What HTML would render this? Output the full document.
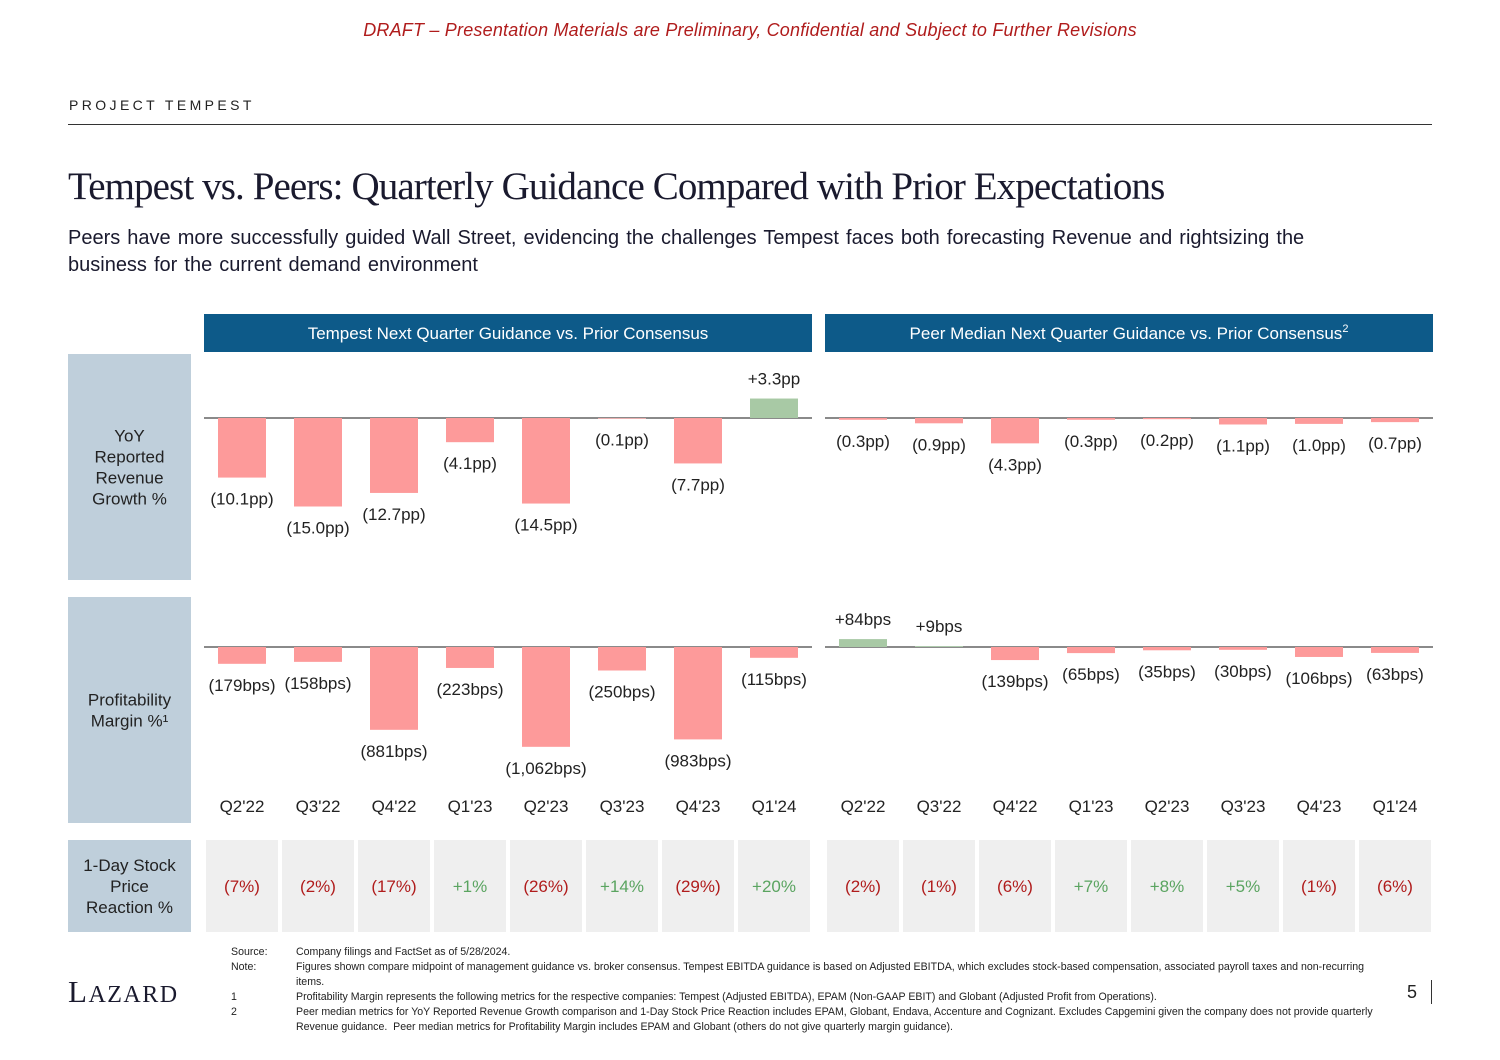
<!DOCTYPE html>
<html><head><meta charset="utf-8"><style>
body{margin:0;width:1500px;height:1060px;background:#fff;position:relative;overflow:hidden;font-family:"Liberation Sans",sans-serif;}
.abs{position:absolute;}
</style></head><body>
<div class="abs" style="left:0;width:1500px;top:20px;text-align:center;color:#b01c1c;font-style:italic;font-size:18px;letter-spacing:0.2px;">DRAFT – Presentation Materials are Preliminary, Confidential and Subject to Further Revisions</div>
<div class="abs" style="left:69px;top:97px;font-size:14px;letter-spacing:3.4px;color:#222;">PROJECT TEMPEST</div>
<div class="abs" style="left:68px;top:124px;width:1364px;height:1px;background:#333;"></div>
<div class="abs" style="left:68px;top:164px;font-family:'Liberation Serif',serif;font-size:39px;color:#1a1a2e;letter-spacing:-0.9px;">Tempest vs. Peers: Quarterly Guidance Compared with Prior Expectations</div>
<div class="abs" style="left:68px;top:225px;width:1320px;font-size:20px;line-height:27px;color:#1a1a2e;word-spacing:1.5px;">Peers have more successfully guided Wall Street, evidencing the challenges Tempest faces both forecasting Revenue and rightsizing the business for the current demand environment</div>

<svg class="abs" style="left:0;top:0" width="1500" height="1060" id="chart" font-family="Liberation Sans, sans-serif"></svg>

<div class="abs" style="left:68px;top:974px;font-family:'Liberation Serif',serif;font-size:31px;letter-spacing:1.5px;color:#1a1a2e;">L<span style="font-size:24px">AZARD</span></div>
<div class="abs" style="left:231px;top:945px;width:1150px;font-size:10.6px;line-height:15px;color:#222;">
<div style="display:flex"><span style="width:65px;flex:none">Source:</span><span>Company filings and FactSet as of 5/28/2024.</span></div>
<div style="display:flex"><span style="width:65px;flex:none">Note:</span><span>Figures shown compare midpoint of management guidance vs. broker consensus. Tempest EBITDA guidance is based on Adjusted EBITDA, which excludes stock-based compensation, associated payroll taxes and non-recurring items.</span></div>
<div style="display:flex"><span style="width:65px;flex:none">1</span><span>Profitability Margin represents the following metrics for the respective companies: Tempest (Adjusted EBITDA), EPAM (Non-GAAP EBIT) and Globant (Adjusted Profit from Operations).</span></div>
<div style="display:flex"><span style="width:65px;flex:none">2</span><span>Peer median metrics for YoY Reported Revenue Growth comparison and 1-Day Stock Price Reaction includes EPAM, Globant, Endava, Accenture and Cognizant. Excludes Capgemini given the company does not provide quarterly Revenue guidance.&nbsp; Peer median metrics for Profitability Margin includes EPAM and Globant (others do not give quarterly margin guidance).</span></div>
</div>
<div class="abs" style="left:1407px;top:982px;font-size:18px;color:#222;">5</div>
<div class="abs" style="left:1431px;top:980px;width:1px;height:24px;background:#333;"></div>

<script>
const quarters=["Q2'22","Q3'22","Q4'22","Q1'23","Q2'23","Q3'23","Q4'23","Q1'24"];
const tempestRevenue=[-10.1,-15.0,-12.7,-4.1,-14.5,-0.1,-7.7,3.3];
const peerRevenue=[-0.3,-0.9,-4.3,-0.3,-0.2,-1.1,-1.0,-0.7];
const tempestMargin=[-179,-158,-881,-223,-1062,-250,-983,-115];
const peerMargin=[84,9,-139,-65,-35,-30,-106,-63];
const tempestStock=[-7,-2,-17,1,-26,14,-29,20];
const peerStock=[-2,-1,-6,7,8,5,-1,-6];

const NS='http://www.w3.org/2000/svg';
const svg=document.getElementById('chart');
function mk(tag,attrs,parent){const e=document.createElementNS(NS,tag);for(const k in attrs)e.setAttribute(k,attrs[k]);(parent||svg).appendChild(e);return e;}
const panels=[{x0:204,title:'Tempest Next Quarter Guidance vs. Prior Consensus',rev:tempestRevenue,mar:tempestMargin,stk:tempestStock,key:'tempest'},
{x0:825,title:'Peer Median Next Quarter Guidance vs. Prior Consensus',rev:peerRevenue,mar:peerMargin,stk:peerStock,key:'peer'}];
const PW=608,COL=PW/8,BW=48;
const revBase=418,revScale=5.9;
const marBase=647,marScale=0.094;
function xc(x0,i){return x0+COL*(i+0.5);}
function yRev(v){return revBase-v*revScale;}
function yMar(v){return marBase-v*marScale;}
function fmtPP(v){return v<0?'('+Math.abs(v).toFixed(1)+'pp)':'+'+v.toFixed(1)+'pp';}
function fmtBps(v){const s=Math.abs(v).toLocaleString('en-US');return v<0?'('+s+'bps)':'+'+s+'bps';}
function fmtPct(v){return v<0?'('+Math.abs(v)+'%)':'+'+v+'%';}

const rows=[{y:354,h:226,lines:['YoY','Reported','Revenue','Growth %'],n:'revenue-row-label'},
{y:597,h:226,lines:['Profitability','Margin %¹'],n:'margin-row-label'},
{y:840,h:92,lines:['1-Day Stock','Price','Reaction %'],n:'stock-row-label'}];
rows.forEach(r=>{
 const g=mk('g',{});
 
 
 mk('rect',{x:68,y:r.y,width:123,height:r.h,fill:'#bfcfdb'},g);
 const cy=r.y+r.h/2-(r.lines.length-1)*10.5;
 r.lines.forEach((l,i)=>{const t=mk('text',{x:129.5,y:cy+i*21+6,'text-anchor':'middle','font-size':17,fill:'#222'},g);t.textContent=l;});
});

panels.forEach(p=>{
 const hg=mk('g',{});
 
 
 mk('rect',{x:p.x0,y:314,width:PW,height:38,fill:'#0d5a89'},hg);
 const ht=mk('text',{x:p.x0+PW/2,y:339,'text-anchor':'middle','font-size':17,fill:'#fff'},hg);
 ht.textContent=p.title;
 if(p.key==='peer'){const s=mk('tspan',{'font-size':11,dy:-7},ht);s.textContent='2';}
 const b1=mk('line',{x1:p.x0,x2:p.x0+PW,y1:revBase,y2:revBase,stroke:'#444','stroke-width':1.3});
 
 
 const b2=mk('line',{x1:p.x0,x2:p.x0+PW,y1:marBase,y2:marBase,stroke:'#444','stroke-width':1.3});
 
 
 quarters.forEach((q,i)=>{
  const cx=xc(p.x0,i);
  const v=p.rev[i];const y=yRev(v);
  const r=mk('rect',{x:cx-BW/2,y:Math.min(y,revBase),width:BW,height:Math.max(Math.abs(y-revBase),0.5),fill:v<0?'#fd9a9a':'#a8c9a5'});
  
  
  const lt=mk('text',{x:cx,y:v<0?y+27:y-14,'text-anchor':'middle','font-size':17,fill:'#222'});
  lt.textContent=fmtPP(v);
  
  
  const m=p.mar[i];const ym=yMar(m);
  const r2=mk('rect',{x:cx-BW/2,y:Math.min(ym,marBase),width:BW,height:Math.max(Math.abs(ym-marBase),0.5),fill:m<0?'#fd9a9a':'#a8c9a5'});
  
  
  const lm=mk('text',{x:cx,y:m<0?ym+27:ym-14,'text-anchor':'middle','font-size':17,fill:'#222'});
  lm.textContent=fmtBps(m);
  
  
  const ql=mk('text',{x:cx,y:812,'text-anchor':'middle','font-size':17,fill:'#222'});
  ql.textContent=q;
  
  
  const s=p.stk[i];
  const c=mk('rect',{x:cx-36,y:840,width:72,height:92,fill:'#efefef'});
  
  
  const st=mk('text',{x:cx,y:892,'text-anchor':'middle','font-size':17,fill:s<0?'#b01c1c':'#5aa460'});
  st.textContent=fmtPct(s);
  
  
 });
});
</script>
</body></html>
